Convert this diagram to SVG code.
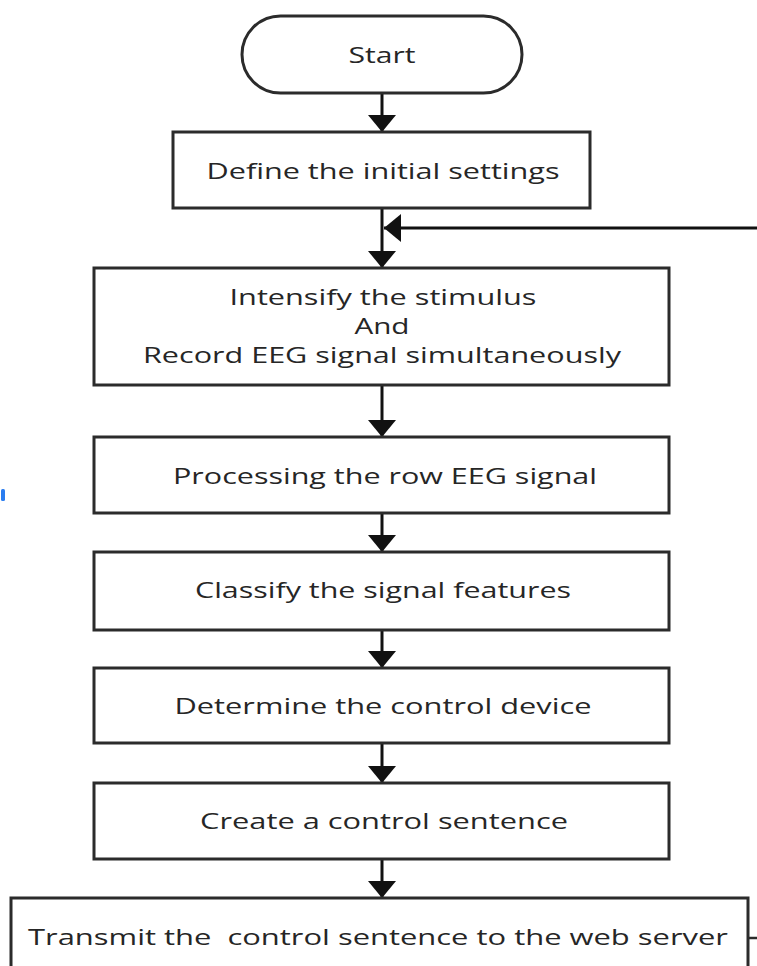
<svg xmlns="http://www.w3.org/2000/svg" width="757" height="966" viewBox="0 0 757 966">
  <style>
    .node { fill: #ffffff; stroke: #2b2b2b; stroke-width: 3; }
    .label { font-family: "Open Sans", "Liberation Sans", sans-serif; font-size: 21px; fill: #262626; text-anchor: middle; }
    .flow { fill: none; stroke: #111111; stroke-width: 3; marker-end: url(#arrow); }
    .plain { fill: none; stroke: #2b2b2b; stroke-width: 2.5; }
  </style>
  <defs>
    <marker id="arrow" viewBox="0 0 17 28" refX="17" refY="14" markerWidth="17" markerHeight="28" markerUnits="userSpaceOnUse" orient="auto">
      <path d="M0,0 L17,14 L0,28 z" fill="#111111"/>
    </marker>
  </defs>

  <rect width="757" height="966" fill="#ffffff"/>

  <!-- stray blue tick at the left margin -->
  <rect x="1" y="489" width="4" height="12" rx="1.5" fill="#2a7df0"/>

  <!-- connectors -->
  <g id="connectors">
    <line class="flow" x1="382" y1="93" x2="382" y2="132"/>
    <line class="flow" x1="382" y1="208" x2="382" y2="268"/>
    <line class="flow" x1="757" y1="228" x2="384" y2="228"/>
    <line class="flow" x1="382" y1="385" x2="382" y2="437"/>
    <line class="flow" x1="382" y1="513" x2="382" y2="552"/>
    <line class="flow" x1="382" y1="630" x2="382" y2="668"/>
    <line class="flow" x1="382" y1="743" x2="382" y2="783"/>
    <line class="flow" x1="382" y1="859" x2="382" y2="898"/>
    <line class="plain" x1="748" y1="938" x2="757" y2="938"/>
  </g>

  <g id="start">
    <rect class="node" x="242" y="16" width="280" height="77" rx="38.5" ry="38.5"/>
    <text class="label" x="382" y="63" textLength="67" lengthAdjust="spacingAndGlyphs">Start</text>
  </g>

  <g id="define-settings">
    <rect class="node" x="173" y="132" width="417" height="76"/>
    <text class="label" x="383" y="179" textLength="353" lengthAdjust="spacingAndGlyphs">Define the initial settings</text>
  </g>

  <g id="stimulus-record">
    <rect class="node" x="94" y="268" width="575" height="117"/>
    <text class="label" x="383" y="305" textLength="307" lengthAdjust="spacingAndGlyphs">Intensify the stimulus</text>
    <text class="label" x="382" y="334" textLength="55" lengthAdjust="spacingAndGlyphs">And</text>
    <text class="label" x="382" y="363" textLength="478" lengthAdjust="spacingAndGlyphs">Record EEG signal simultaneously</text>
  </g>

  <g id="processing">
    <rect class="node" x="94" y="437" width="575" height="76"/>
    <text class="label" x="385" y="484" textLength="424" lengthAdjust="spacingAndGlyphs">Processing the row EEG signal</text>
  </g>

  <g id="classify">
    <rect class="node" x="94" y="552" width="575" height="78"/>
    <text class="label" x="383" y="598" textLength="376" lengthAdjust="spacingAndGlyphs">Classify the signal features</text>
  </g>

  <g id="determine-device">
    <rect class="node" x="94" y="668" width="575" height="75"/>
    <text class="label" x="383" y="714" textLength="417" lengthAdjust="spacingAndGlyphs">Determine the control device</text>
  </g>

  <g id="create-sentence">
    <rect class="node" x="94" y="783" width="575" height="76"/>
    <text class="label" x="384" y="829" textLength="368" lengthAdjust="spacingAndGlyphs">Create a control sentence</text>
  </g>

  <g id="transmit">
    <rect class="node" x="11" y="898" width="737" height="80"/>
    <text class="label" x="378" y="945" textLength="700" lengthAdjust="spacingAndGlyphs" xml:space="preserve">Transmit the  control sentence to the web server</text>
  </g>
</svg>
